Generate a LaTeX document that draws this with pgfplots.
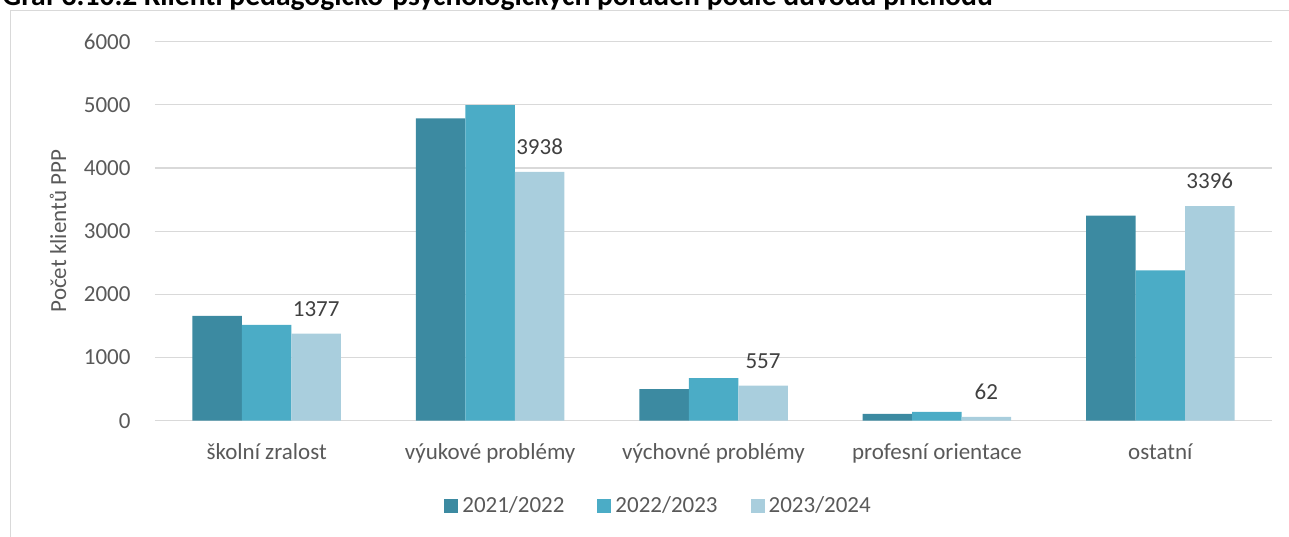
\documentclass[border=0pt]{standalone}
\usepackage{fontspec}
\setmainfont{Carlito}
\usepackage{pgfplots}
\pgfplotsset{compat=1.18}
\definecolor{cA}{HTML}{3C8AA1}
\definecolor{cB}{HTML}{4BACC6}
\definecolor{cC}{HTML}{A9CEDD}
\definecolor{txt}{HTML}{595959}
\definecolor{lbl}{HTML}{404040}
\definecolor{grd}{HTML}{D9D9D9}

\begin{document}
\begin{tikzpicture}
\useasboundingbox (0,0) rectangle (644.5pt,268pt);
\clip (0,0) rectangle (644.5pt,268pt);
% chart frame (only left and top edges fall inside the picture)
\draw[grd, line width=0.6pt] (5.25pt,-20pt) rectangle (700pt,262.75pt);
\node[anchor=base west, inner sep=0pt, font=\fontsize{14.8}{17}\selectfont\bfseries]
  at (1pt,265pt) {Graf 3.10.2 Klienti pedagogicko-psychologických poraden podle důvodu příchodu};
\begin{axis}[
    at={(77.5pt,57.65pt)}, anchor=south west,
    scale only axis, width=558.5pt, height=189.6pt,
    xmin=-0.5, xmax=4.5, ymin=0, ymax=6000,
    xtick={0,1,2,3,4},
    xticklabels={školní zralost, výukové problémy, výchovné problémy, profesní orientace, ostatní},
    ytick={0,1000,...,6000},
    ymajorgrids, grid style={grd, line width=0.6pt},
    axis line style={draw=none},
    major tick length=0pt,
    tick label style={font=\fontsize{11.5}{14}\selectfont, text=txt},
    /pgf/number format/assume math mode=true,
    /pgf/number format/1000 sep={},
    yticklabel style={xshift=-8.7pt},
    xticklabel style={yshift=-8pt},
    ylabel={Počet klientů PPP},
    ylabel style={font=\fontsize{11.5}{14}\selectfont, text=txt,
                  at={(axis description cs:-0.0868,0.5)}, anchor=center},
    ybar, bar width=24.75pt,
    legend columns=3,
    legend style={at={(axis description cs:0.4517,-0.225)}, anchor=center,
                  draw=none, fill=none, font=\fontsize{11.5}{14}\selectfont, text=txt,
                  /tikz/every even column/.append style={column sep=14.5pt}},
    every axis plot post/.append style={legend image code/.code={\fill[##1] (0pt,-3.5pt) rectangle (7pt,3.5pt);}},
]
\addplot[fill=cA, draw=none, bar shift=-24.75pt] coordinates {(0,1660) (1,4785) (2,500) (3,110) (4,3245)};
\addplot[fill=cB, draw=none, bar shift=0pt] coordinates {(0,1515) (1,4995) (2,675) (3,140) (4,2380)};
\addplot[fill=cC, draw=none, bar shift=24.75pt,
    nodes near coords,
    nodes near coords style={font=\fontsize{11.5}{14}\selectfont, text=lbl, yshift=5pt}]
    coordinates {(0,1377) (1,3938) (2,557) (3,62) (4,3396)};
\legend{2021/2022, 2022/2023, 2023/2024}
\end{axis}
\end{tikzpicture}
\end{document}
